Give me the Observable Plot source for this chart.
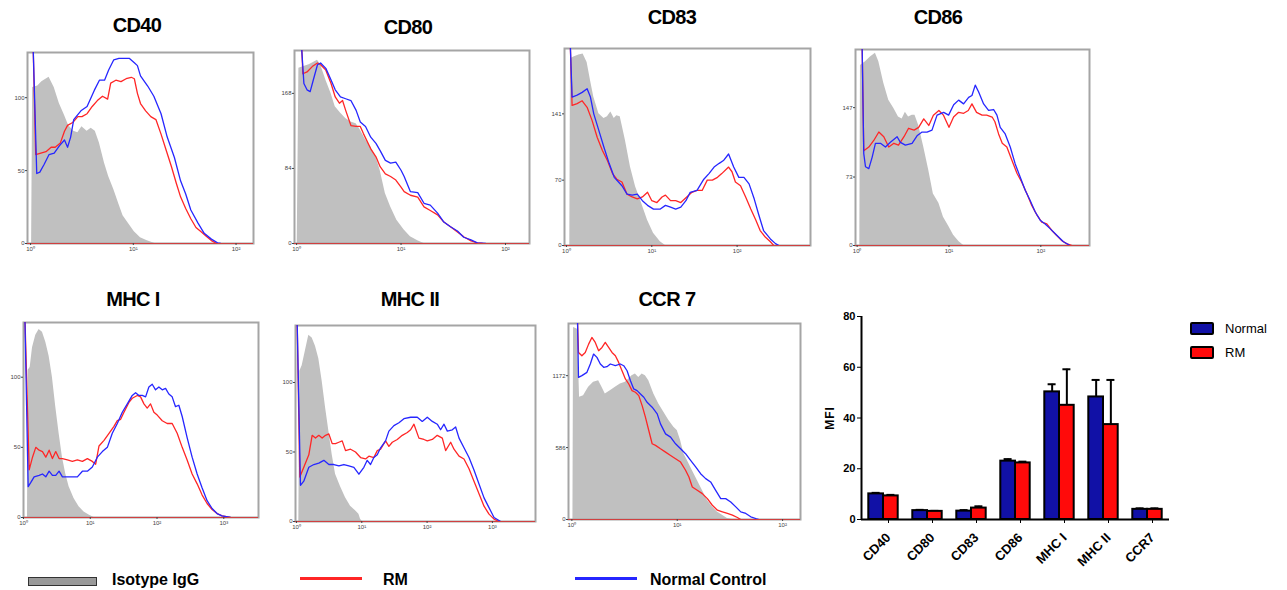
<!DOCTYPE html>
<html><head><meta charset="utf-8">
<script src="https://cdn.jsdelivr.net/npm/d3@7"></script>
<script src="https://cdn.jsdelivr.net/npm/@observablehq/plot@0.6"></script>
<style>
body{margin:0;background:#fff;font-family:"Liberation Sans",Arial,sans-serif;}
#root{position:relative;width:1287px;height:590px;overflow:hidden;background:#fff;}
.ttl{position:absolute;font-weight:bold;font-size:20px;transform:translate(-50%,-50%);white-space:nowrap;letter-spacing:-0.6px;color:#000;}
.lg{position:absolute;white-space:nowrap;transform:translateY(-50%);}
</style></head><body><div id="root"></div>
<script>
// ---------- histogram data: [log10 fluorescence, count] ----------
const CD40_ISO=[[0.01,0],[0.02,107],[0.07,108],[0.11,111],[0.18,114],[0.23,107],[0.28,96],[0.33,88],[0.37,81],[0.42,77],[0.46,76],[0.50,80],[0.55,77],[0.59,79],[0.63,77],[0.67,69],[0.72,55],[0.76,46],[0.81,37],[0.86,27],[0.90,19],[0.96,13],[1.01,8],[1.07,4],[1.13,2],[1.21,0]];
const CD40_RM=[[0.025,135],[0.05,61],[0.10,62],[0.15,63],[0.20,66],[0.24,66],[0.29,69],[0.33,77],[0.36,81],[0.41,83],[0.46,87],[0.50,87],[0.55,89],[0.60,94],[0.65,98],[0.70,101],[0.75,99],[0.78,110],[0.83,112],[0.88,111],[0.93,113],[0.98,114],[1.01,113],[1.04,103],[1.07,96],[1.12,91],[1.17,87],[1.22,85],[1.27,75],[1.32,64],[1.37,53],[1.42,41],[1.46,32],[1.51,24],[1.56,17],[1.61,11],[1.66,8],[1.71,5],[1.76,2],[1.81,0]];
const CD40_NC=[[0.025,135],[0.06,48],[0.09,49],[0.13,54],[0.18,61],[0.23,62],[0.28,67],[0.33,71],[0.36,66],[0.39,73],[0.42,85],[0.49,91],[0.55,94],[0.62,105],[0.67,112],[0.72,112],[0.76,119],[0.81,126],[0.86,127],[0.91,127],[0.96,127],[1.01,124],[1.04,122],[1.07,115],[1.14,108],[1.20,101],[1.27,89],[1.33,73],[1.40,59],[1.46,43],[1.51,34],[1.56,23],[1.63,14],[1.69,7],[1.76,3],[1.82,0.5],[1.85,0]];

const CD80_ISO=[[0.006,0],[0.022,196],[0.07,198],[0.12,200],[0.17,203],[0.20,205],[0.23,200],[0.28,183],[0.33,168],[0.37,153],[0.42,146],[0.47,140],[0.52,136],[0.57,134],[0.61,127],[0.66,116],[0.71,108],[0.76,97],[0.80,82],[0.85,56],[0.90,41],[0.96,26],[1.03,15],[1.09,7.5],[1.16,3],[1.22,0]];
const CD80_RM=[[0.047,225],[0.06,190],[0.10,192],[0.15,198],[0.20,202],[0.23,200],[0.28,194],[0.33,179],[0.37,164],[0.41,157],[0.44,160],[0.47,149],[0.52,132],[0.57,131],[0.61,131],[0.64,123],[0.71,106],[0.76,97],[0.80,86],[0.85,78],[0.90,75],[0.95,71],[1.00,63],[1.03,58],[1.09,54],[1.16,52],[1.22,41],[1.28,37],[1.35,32],[1.41,24],[1.47,19],[1.54,13],[1.60,7.5],[1.67,3],[1.73,0.7],[1.78,0]];
const CD80_NC=[[0.045,225],[0.07,179],[0.10,172],[0.13,170],[0.16,183],[0.20,200],[0.23,202],[0.28,196],[0.33,183],[0.37,172],[0.42,164],[0.47,162],[0.52,160],[0.57,149],[0.61,136],[0.66,131],[0.71,119],[0.76,112],[0.80,104],[0.85,93],[0.90,90],[0.95,91],[1.00,82],[1.03,75],[1.09,58],[1.16,57],[1.22,45],[1.28,43],[1.35,34],[1.41,24],[1.47,19],[1.54,14],[1.60,7],[1.67,4],[1.73,0.7],[1.81,0]];

const CD83_ISO=[[0.039,0],[0.047,200],[0.086,202],[0.145,204],[0.195,205],[0.242,196],[0.281,177],[0.32,159],[0.38,141],[0.44,136],[0.48,138],[0.52,143],[0.56,136],[0.59,139],[0.63,138],[0.69,113],[0.75,84],[0.81,63],[0.87,48],[0.95,27],[1.02,13],[1.10,4],[1.16,0]];
const CD83_RM=[[0.045,215],[0.066,150],[0.125,152],[0.184,155],[0.242,148],[0.30,134],[0.36,116],[0.42,102],[0.48,91],[0.54,77],[0.59,71],[0.65,68],[0.71,55],[0.77,52],[0.83,50],[0.89,52],[0.95,57],[1.00,48],[1.06,46],[1.12,52],[1.16,54],[1.22,48],[1.28,48],[1.34,46],[1.41,52],[1.47,57],[1.53,59],[1.59,59],[1.65,70],[1.71,70],[1.77,73],[1.82,77],[1.90,84],[1.94,79],[1.98,68],[2.04,64],[2.10,52],[2.16,39],[2.22,27],[2.27,16],[2.33,9],[2.39,4],[2.43,0]];
const CD83_NC=[[0.045,215],[0.066,159],[0.125,161],[0.184,164],[0.242,168],[0.281,159],[0.32,141],[0.38,123],[0.44,105],[0.50,88],[0.56,73],[0.61,68],[0.65,64],[0.71,55],[0.77,54],[0.83,55],[0.89,48],[0.95,43],[1.02,39],[1.10,39],[1.16,43],[1.22,41],[1.28,39],[1.34,41],[1.40,48],[1.45,57],[1.53,59],[1.61,71],[1.67,77],[1.73,84],[1.79,88],[1.84,91],[1.90,98],[1.96,84],[2.02,73],[2.08,73],[2.14,66],[2.20,50],[2.25,34],[2.31,16],[2.39,7],[2.45,2],[2.49,0]];

const CD86_ISO=[[0.029,0],[0.036,192],[0.091,196],[0.145,201],[0.199,205],[0.236,196],[0.29,173],[0.344,155],[0.40,146],[0.45,137],[0.49,135],[0.525,142],[0.56,137],[0.60,139],[0.63,139],[0.67,128],[0.725,105],[0.78,80],[0.83,55],[0.89,45],[0.94,30],[1.00,20],[1.05,11],[1.11,4],[1.16,0]];
const CD86_RM=[[0.054,215],[0.072,101],[0.127,105],[0.181,112],[0.236,121],[0.29,116],[0.344,105],[0.40,109],[0.45,107],[0.51,116],[0.56,125],[0.62,123],[0.67,126],[0.725,135],[0.78,128],[0.83,139],[0.89,144],[0.94,139],[1.00,126],[1.05,137],[1.105,142],[1.16,141],[1.21,144],[1.25,151],[1.30,142],[1.36,139],[1.41,139],[1.47,137],[1.50,132],[1.54,119],[1.58,109],[1.63,105],[1.685,91],[1.74,77],[1.79,68],[1.85,55],[1.90,43],[1.96,32],[2.01,25],[2.065,23],[2.12,16],[2.17,11],[2.23,5],[2.28,2],[2.34,0]];
const CD86_NC=[[0.054,215],[0.072,98],[0.091,84],[0.127,82],[0.163,94],[0.199,109],[0.254,109],[0.308,105],[0.362,110],[0.435,116],[0.471,110],[0.525,107],[0.598,109],[0.652,117],[0.707,121],[0.761,121],[0.815,123],[0.87,139],[0.942,142],[0.996,139],[1.051,150],[1.105,155],[1.159,151],[1.214,158],[1.25,160],[1.286,171],[1.322,164],[1.377,151],[1.431,144],[1.486,145],[1.522,139],[1.558,126],[1.612,119],[1.667,105],[1.721,87],[1.775,73],[1.83,59],[1.884,48],[1.938,36],[1.993,27],[2.047,23],[2.101,18],[2.174,11],[2.246,4],[2.319,0]];

const MHC1_ISO=[[0.06,0],[0.07,105],[0.10,107],[0.135,121],[0.184,130],[0.234,134],[0.284,132],[0.334,125],[0.384,115],[0.433,100],[0.483,79],[0.533,60],[0.583,43],[0.633,31],[0.683,22],[0.757,13.5],[0.832,7.6],[0.907,4],[0.982,1.7],[1.056,0]];
const MHC1_RM=[[0.02,145],[0.085,34],[0.135,43],[0.184,50],[0.234,48],[0.284,47],[0.334,43],[0.384,48],[0.433,42],[0.483,47],[0.533,42],[0.583,42],[0.658,41],[0.732,40],[0.807,41],[0.882,40],[0.957,42],[1.031,40],[1.081,38],[1.131,51],[1.206,55],[1.281,60],[1.355,65],[1.405,69],[1.455,70],[1.505,75],[1.579,82],[1.629,85],[1.704,87],[1.754,86],[1.804,81],[1.853,78],[1.903,81],[1.953,75],[2.003,73],[2.078,69],[2.152,67],[2.227,67],[2.302,60],[2.377,50],[2.451,41],[2.526,31],[2.601,24],[2.676,16],[2.75,10],[2.825,5.7],[2.9,2.8],[2.975,1.2],[3.1,0]];
const MHC1_NC=[[0.02,145],[0.07,22],[0.11,25],[0.159,29],[0.234,30],[0.284,31],[0.334,29],[0.384,33],[0.433,30],[0.483,30],[0.533,33],[0.583,29],[0.658,29],[0.732,29],[0.807,29],[0.882,33],[0.957,33],[1.031,36],[1.106,43],[1.181,47],[1.256,50],[1.33,60],[1.405,67],[1.48,75],[1.555,81],[1.629,87],[1.679,89],[1.729,87],[1.779,87],[1.829,86],[1.878,93],[1.928,95],[1.978,91],[2.028,93],[2.078,91],[2.128,92],[2.177,88],[2.227,86],[2.277,79],[2.327,80],[2.377,72],[2.451,57],[2.526,43],[2.601,31],[2.676,21],[2.75,12],[2.825,6.4],[2.9,2.8],[2.975,1.2],[3.1,0]];

const MHC2_ISO=[[0.036,0],[0.051,108],[0.087,112],[0.138,123],[0.189,134],[0.24,132],[0.291,126],[0.342,117],[0.393,101],[0.445,82],[0.496,65],[0.547,48],[0.598,34],[0.675,25],[0.751,17],[0.828,11],[0.904,7.7],[0.956,5.3],[0.981,1.7],[1.007,0]];
const MHC2_RM=[[0.01,145],[0.051,32],[0.112,39],[0.189,48],[0.24,62],[0.291,60],[0.342,62],[0.393,60],[0.445,62],[0.496,63],[0.547,56],[0.598,56],[0.649,57],[0.70,58],[0.751,51],[0.828,52],[0.904,50],[0.981,46],[1.058,45],[1.109,47],[1.185,46],[1.237,51],[1.288,52],[1.364,58],[1.415,54],[1.467,57],[1.543,59],[1.62,62],[1.697,64],[1.748,66],[1.799,70],[1.875,60],[1.952,59],[2.003,58],[2.08,59],[2.156,62],[2.233,60],[2.284,51],[2.361,57],[2.412,52],[2.489,47],[2.565,45],[2.642,38],[2.718,29],[2.795,20],[2.872,11],[2.948,5.3],[3.025,1.7],[3.102,0]];
const MHC2_NC=[[0.01,145],[0.061,26],[0.112,29],[0.189,39],[0.266,41],[0.342,42],[0.419,44],[0.496,41],[0.572,41],[0.649,40],[0.726,41],[0.802,40],[0.879,39],[0.956,34],[1.032,39],[1.083,44],[1.134,41],[1.185,46],[1.237,48],[1.288,53],[1.364,58],[1.415,65],[1.492,69],[1.569,71],[1.645,74],[1.748,75],[1.85,75],[1.926,72],[2.003,75],[2.08,72],[2.156,70],[2.207,66],[2.259,70],[2.31,65],[2.386,66],[2.437,68],[2.489,60],[2.565,53],[2.642,46],[2.718,37],[2.795,27],[2.872,17],[2.948,10],[3.025,2.9],[3.127,0]];

const CCR7_ISO=[[0.010,0],[0.016,1564],[0.054,1551],[0.073,996],[0.111,1009],[0.159,1077],[0.206,1118],[0.254,1131],[0.286,1077],[0.317,1023],[0.365,1050],[0.413,1077],[0.46,1104],[0.508,1118],[0.54,1145],[0.571,1172],[0.603,1185],[0.635,1158],[0.667,1185],[0.698,1172],[0.73,1131],[0.778,1023],[0.825,942],[0.873,874],[0.921,806],[0.968,752],[1.0,725],[1.032,644],[1.063,536],[1.095,482],[1.143,400],[1.19,319],[1.238,238],[1.286,157],[1.333,103],[1.381,62],[1.429,35],[1.476,8],[1.524,0]];
const CCR7_RM=[[0.054,1600],[0.063,1361],[0.095,1334],[0.127,1361],[0.159,1429],[0.19,1483],[0.222,1443],[0.254,1375],[0.286,1402],[0.317,1443],[0.349,1402],[0.381,1361],[0.413,1334],[0.444,1280],[0.476,1212],[0.508,1145],[0.54,1104],[0.571,1050],[0.603,1037],[0.635,1009],[0.667,928],[0.698,834],[0.73,725],[0.762,617],[0.794,604],[0.841,576],[0.889,549],[0.937,522],[0.984,495],[1.032,468],[1.079,401],[1.111,346],[1.143,265],[1.19,238],[1.238,211],[1.286,170],[1.333,116],[1.381,76],[1.429,62],[1.476,49],[1.524,35],[1.571,16],[1.603,0]];
const CCR7_NC=[[0.054,1600],[0.063,1158],[0.095,1172],[0.143,1199],[0.175,1267],[0.206,1348],[0.238,1321],[0.27,1267],[0.302,1240],[0.333,1245],[0.365,1267],[0.413,1253],[0.46,1267],[0.492,1253],[0.524,1212],[0.556,1131],[0.587,1064],[0.619,1050],[0.651,1023],[0.683,996],[0.714,955],[0.762,915],[0.81,861],[0.841,779],[0.889,698],[0.937,671],[0.984,617],[1.032,576],[1.079,536],[1.127,482],[1.175,428],[1.222,373],[1.27,333],[1.317,306],[1.365,238],[1.413,170],[1.46,170],[1.508,143],[1.556,103],[1.603,62],[1.651,49],[1.698,22],[1.746,8],[1.778,0]];

// ---------- panel definitions ----------
const PANEL_NAMES=["CD40","CD80","CD83","CD86","MHC I","MHC II","CCR 7"];
const ISO=[CD40_ISO,CD80_ISO,CD83_ISO,CD86_ISO,MHC1_ISO,MHC2_ISO,CCR7_ISO];
const RM=[CD40_RM,CD80_RM,CD83_RM,CD86_RM,MHC1_RM,MHC2_RM,CCR7_RM];
const NC=[CD40_NC,CD80_NC,CD83_NC,CD86_NC,MHC1_NC,MHC2_NC,CCR7_NC];
const Y_TICKS=[[0,50,100],[0,84,168],[0,70,141],[0,73,147],[0,50,100],[0,50,100],[0,586,1172]];
const Y_MAX=[131,216,211,209,139,141,1597];
const X_RANGE=[[-0.03,2.17],[-0.02,2.23],[-0.023,2.86],[-0.018,2.53],[0,3.52],[-0.015,3.66],[-0.032,2.17]];
const X_TICKS=[[1,10,100],[1,10,100],[1,10,100],[1,10,100],[1,10,100,1000],[1,10,100,1000],[1,10,100]];
const X_TICK_LABELS={1:"10\u2070",10:"10\u00b9",100:"10\u00b2",1000:"10\u00b3"};

// ---------- bar chart data ----------
const BAR_CATS=["CD40","CD80","CD83","CD86","MHC I","MHC II","CCR7"];
const NORMAL_MFI=[10.1,3.5,3.3,23.0,50.3,48.3,4.0];
const NORMAL_UP=[10.5,3.8,3.7,23.8,53.3,55.0,4.4];
const RM_MFI=[9.3,3.2,4.5,22.3,45.0,37.4,4.0];
const RM_UP=[9.7,3.4,5.2,22.8,59.2,55.0,4.4];
const BAR_Y_TICKS=[0,20,40,60,80];

// ---------- layout (page pixels) ----------
const FRAMES=[[27,52,253,243],[294,50,529,243],[564,48,810,245],[855,49,1089,245],[23,322,258,517],[295,325,535,521],[568,323,800,519]];
const TITLE_POS=[[137,25],[408,27],[672,17],[938,17],[133,299],[410,299],[667,299]];

const root=document.getElementById("root");
function place(el,left,top){el.style.position="absolute";el.style.left=left+"px";el.style.top=top+"px";root.appendChild(el);}
const FONT='"Liberation Sans", Arial, sans-serif';
const RED="#ff2626", BLUE="#2626ff";

function histogram(i){
  const [L,T,R,B]=FRAMES[i];
  const mL=26,mR=6,mT=4,mB=14;
  const pts=a=>a.map(([lx,c])=>({x:Math.pow(10,lx),y:c}));
  const svg=Plot.plot({
    width:R-L+mL+mR,height:B-T+mT+mB,
    marginLeft:mL,marginRight:mR,marginTop:mT,marginBottom:mB,
    style:{fontFamily:FONT,fontSize:"6px",color:"#444",background:"transparent",overflow:"visible"},
    x:{type:"log",domain:[Math.pow(10,X_RANGE[i][0]),Math.pow(10,X_RANGE[i][1])]},
    y:{domain:[0,Y_MAX[i]]},
    marks:[
      Plot.areaY(pts(ISO[i]),{x:"x",y:"y",fill:"#c0c0c0",clip:true}),
      Plot.frame({stroke:"#a5a5a5",strokeWidth:2}),
      Plot.ruleY([0],{stroke:"#d04040",strokeWidth:1}),
      Plot.lineY(pts(RM[i]),{x:"x",y:"y",stroke:RED,strokeWidth:1.3,clip:true}),
      Plot.lineY(pts(NC[i]),{x:"x",y:"y",stroke:BLUE,strokeWidth:1.3,clip:true}),
      Plot.axisX({ticks:X_TICKS[i],tickFormat:d=>X_TICK_LABELS[d],tickSize:2,tickPadding:1,label:null}),
      Plot.axisY({ticks:Y_TICKS[i],tickFormat:d=>String(d),tickSize:2,tickPadding:1,label:null})
    ]
  });
  place(svg,L-mL,T-mT);
  const t=document.createElement("div");
  t.className="ttl";t.textContent=PANEL_NAMES[i];
  t.style.left=TITLE_POS[i][0]+"px";t.style.top=TITLE_POS[i][1]+"px";
  root.appendChild(t);
}
for(let i=0;i<PANEL_NAMES.length;i++) histogram(i);

// ---------- bar chart ----------
const normalRows=BAR_CATS.map((c,i)=>({cat:c,v:NORMAL_MFI[i],up:NORMAL_UP[i]}));
const rmRows=BAR_CATS.map((c,i)=>({cat:c,v:RM_MFI[i],up:RM_UP[i]}));
const NAVY="#1111a6";
const bar=Plot.plot({
  width:358,height:273,marginLeft:40,marginRight:10,marginTop:10,marginBottom:60,
  style:{fontFamily:FONT,fontSize:"11px",color:"#000",background:"transparent",overflow:"visible"},
  x:{domain:BAR_CATS,padding:0},
  y:{domain:[0,80]},
  marks:[
    Plot.ruleX(normalRows,{x:"cat",y1:"v",y2:"up",dx:-7.35,stroke:"#000",strokeWidth:2}),
    Plot.tickY(normalRows,{x:"cat",y:"up",insetLeft:10.6,insetRight:25.4,stroke:"#000",strokeWidth:2}),
    Plot.ruleX(rmRows,{x:"cat",y1:"v",y2:"up",dx:7.35,stroke:"#000",strokeWidth:2}),
    Plot.tickY(rmRows,{x:"cat",y:"up",insetLeft:25.4,insetRight:10.6,stroke:"#000",strokeWidth:2}),
    Plot.barY(normalRows,{x:"cat",y:"v",insetLeft:7.3,insetRight:22,fill:NAVY,stroke:"#000",strokeWidth:2}),
    Plot.barY(rmRows,{x:"cat",y:"v",insetLeft:22,insetRight:7.3,fill:"#ff0a0a",stroke:"#000",strokeWidth:2}),
    Plot.ruleY([0],{stroke:"#000",strokeWidth:2}),
    Plot.ruleX([BAR_CATS[0]],{y1:0,y2:80,dx:-22,stroke:"#000",strokeWidth:2}),
    Plot.axisY({ticks:BAR_Y_TICKS,tickSize:4,tickPadding:2,fontWeight:"bold",fontSize:11,label:null}),
    Plot.axisX({tickRotate:-45,tickSize:4,tickPadding:12,dx:5,fontWeight:"bold",fontSize:13,label:null})
  ]
});
place(bar,821,306);

// MFI label
const mfi=document.createElement("div");
mfi.textContent="MFI";
mfi.style.cssText="position:absolute;left:830px;top:418px;transform:translate(-50%,-50%) rotate(-90deg);font-weight:bold;font-size:12px;letter-spacing:1px;";
root.appendChild(mfi);

// bar legend
const BAR_LEGEND=[["Normal",NAVY,328],["RM","#ff0a0a",352]];
BAR_LEGEND.forEach(([lab,col,y])=>{
  const s=document.createElement("div");
  s.style.cssText=`position:absolute;left:1190px;top:${y-6}px;width:20px;height:9px;background:${col};border:2px solid #000;border-radius:2px;`;
  root.appendChild(s);
  const t=document.createElement("div");
  t.className="lg";t.textContent=lab;
  t.style.cssText+=`left:1225px;top:${y}px;font-size:13px;`;
  root.appendChild(t);
});

// bottom legend
const LEGEND_LABELS=["Isotype IgG","RM","Normal Control"];
const sw=document.createElement("div");
sw.style.cssText="position:absolute;left:28px;top:577px;width:67px;height:7px;background:#9a9a9a;border:1px solid #333;";
root.appendChild(sw);
[[300,RED],[575,BLUE]].forEach(([x,c])=>{
  const l=document.createElement("div");
  l.style.cssText=`position:absolute;left:${x}px;top:577px;width:62px;height:3px;background:${c};`;
  root.appendChild(l);
});
[[112,LEGEND_LABELS[0]],[383,LEGEND_LABELS[1]],[650,LEGEND_LABELS[2]]].forEach(([x,s])=>{
  const t=document.createElement("div");
  t.className="lg";t.textContent=s;
  t.style.cssText+=`left:${x}px;top:580px;font-size:16px;font-weight:bold;letter-spacing:0px;`;
  root.appendChild(t);
});
</script></body></html>
